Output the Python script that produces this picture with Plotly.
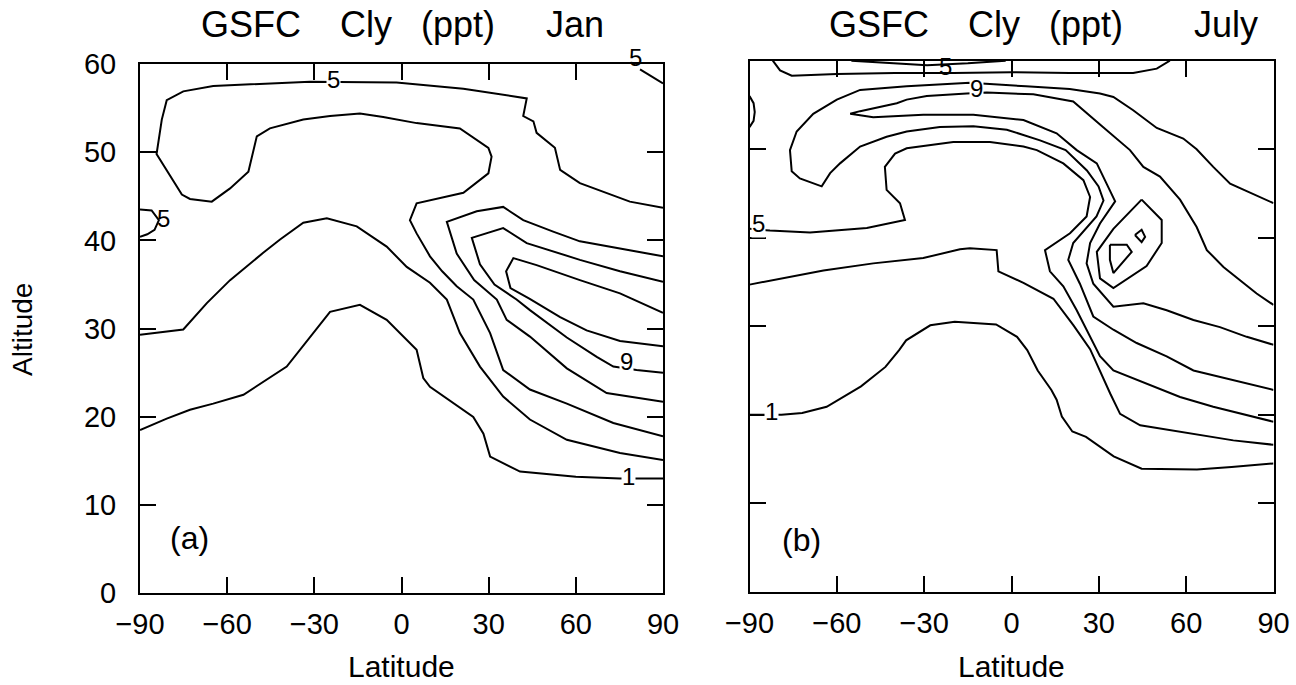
import plotly.graph_objects as go

# Panel (a) GSFC Cly January
JAN_1_LAT = [-90, -80.8, -72.8, -64.8, -54.4, -39.5, -24.6, -14.3, -5.1, 1.8, 5.2, 7.5, 9.8, 24.7, 28.2, 30.5, 40.8, 60, 75.2, 90]
JAN_1_ALT = [18.5, 19.8, 20.8, 21.5, 22.5, 25.7, 31.9, 32.7, 31.0, 28.7, 27.6, 24.4, 23.4, 20.0, 18.1, 15.5, 13.8, 13.2, 13.0, 13.0]

JAN_3_LAT = [-90, -75.1, -67.0, -59.0, -47.6, -41.8, -33.8, -25.7, -15.4, -5.1, 1.8, 9.8, 15.6, 20.1, 27.0, 35.0, 44.2, 56.9, 75.2, 90]
JAN_3_ALT = [29.3, 29.9, 32.9, 35.5, 38.6, 40.1, 42.0, 42.5, 41.6, 39.3, 37.0, 35.2, 33.3, 29.5, 25.7, 22.3, 19.7, 17.4, 15.9, 15.1]

JAN_5_LAT = [90, 78.6, 61.4, 54.6, 52.8, 46.5, 45.4, 41.9, 43.1, 21.3, -1.7, -18.3, -31.5, -64.8, -75.1, -80.8, -82.5, -84.3,
             -75.6, -72.8, -65.3, -59.0, -52.7, -49.8, -45.3, -33.8, -24.6, -14.3, -6.3, 5.2, 20.1, 29.9, 31.0, 29.9, 21.3,
             5.2, 2.9, 5.2, 9.8, 14.0, 19.0, 24.7, 30.5, 35.0, 44.2, 56.9, 72.9, 90]
JAN_5_ALT = [43.7, 44.4, 46.5, 48.0, 50.5, 52.2, 53.5, 54.1, 56.1, 57.2, 57.9, 58.0, 58.0, 57.5, 56.9, 55.9, 53.7, 49.8,
             45.2, 44.7, 44.4, 45.9, 47.8, 51.8, 52.7, 53.7, 54.1, 54.4, 54.0, 53.3, 52.7, 50.5, 49.5, 47.6, 45.4,
             44.2, 42.3, 40.8, 38.2, 36.5, 34.8, 33.3, 29.5, 25.3, 23.1, 21.5, 19.3, 17.8]

JAN_7_LAT = [90, 61.4, 52.2, 41.9, 35.0, 25.9, 15.6, 19.0, 25.0, 32.8, 36.2, 44.2, 56.9, 70.6, 90]
JAN_7_ALT = [38.2, 39.9, 41.0, 42.3, 43.8, 43.3, 42.1, 38.5, 35.5, 33.3, 31.0, 29.1, 25.5, 22.7, 21.7]

JAN_9_LAT = [90, 75.2, 61.4, 43.1, 35.0, 24.2, 27.0, 32.0, 39.6, 44.2, 56.9, 67.2, 72.9, 80.9, 90]
JAN_9_ALT = [35.3, 36.5, 37.8, 39.7, 41.4, 40.3, 37.3, 35.0, 33.3, 32.1, 29.0, 26.8, 25.7, 25.3, 25.0]

JAN_11_LAT = [90, 75.2, 61.4, 46.5, 38.5, 36.0, 37.5, 44.0, 54.6, 63.7, 75.2, 90]
JAN_11_ALT = [31.8, 34.0, 35.5, 37.2, 38.0, 36.5, 34.6, 33.4, 31.3, 29.8, 28.6, 28.0]

JAN_5B_LAT = [-90, -86.0, -83.5, -85.0, -87.5, -90]       # small loop at left edge
JAN_5B_ALT = [43.5, 43.4, 42.3, 41.2, 40.7, 40.4]
JAN_5C_LAT = [82.1, 86.0, 90]                            # corner segment top right
JAN_5C_ALT = [59.4, 58.6, 57.8]

# Panel (b) GSFC Cly July
JUL_1_LAT = [-90, -79.0, -71.9, -63.5, -51.7, -43.3, -38.6, -36.2, -27.9, -19.5, -5.3, 1.9, 5.4, 9.0, 13.7, 15.5, 17.3,
             20.9, 25.6, 35.1, 44.7, 63.7, 75.6, 90]
JUL_1_ALT = [20.0, 20.0, 20.2, 20.9, 23.2, 25.4, 27.3, 28.4, 30.1, 30.5, 30.2, 28.8, 27.3, 25.0, 22.8, 21.7, 19.8,
             18.1, 17.5, 15.3, 13.9, 13.8, 14.1, 14.5]

JUL_3_LAT = [-90, -78.4, -64.6, -47.5, -30.3, -17.7, -14.3, -5.1, -4.5, 4.1, 14.4, 21.3, 27.0, 33.9, 37.3, 44.2, 57.9, 76.2, 90]
JUL_3_ALT = [34.7, 35.4, 36.3, 37.1, 37.7, 38.7, 38.8, 38.6, 36.2, 34.9, 33.1, 30.1, 27.4, 22.4, 20.1, 18.8, 18.1, 17.1, 16.6]

JUL_5_LAT = [-90, -83.0, -69.2, -49.7, -36.6, -38.3, -42.9, -43.5, -40.0, -36.0, -20.0, -7.4, 4.1, 8.7, 17.8, 24.7, 27.0,
             25.8, 20.1, 11.5, 13.2, 17.8, 22.4, 27.0, 30.4, 35.0, 46.4, 57.9, 69.3, 90]
JUL_5_ALT = [41.0, 40.8, 40.6, 41.1, 42.0, 43.9, 45.4, 48.0, 49.5, 50.1, 50.8, 50.8, 50.3, 49.9, 48.4, 46.5, 44.6,
             42.4, 40.5, 38.6, 36.2, 34.5, 31.8, 28.8, 26.6, 25.0, 23.5, 22.0, 20.9, 19.2]

JUL_7_LAT = [90, 75.1, 69.3, 63.6, 59.0, 49.9, 41.8, 35.0, 30.4, 20.0, 5.0, -14.3, -36.0, -52.0, -60.0, -68.1, -73.8,
             -76.1, -75.5, -72.7, -65.2, -62.3, -58.9, -52.0, -42.9, -36.0, -24.6, -13.1, -1.6, 9.8, 18.6, 25.9, 29.9,
             31.6, 29.2, 21.2, 19.5, 23.5, 28.1, 35.0, 43.0, 53.3, 62.5, 71.6, 90]
JUL_7_ALT = [43.9, 46.1, 48.0, 50.0, 51.2, 52.4, 54.4, 55.9, 56.3, 56.8, 57.1, 57.5, 57.1, 56.7, 55.6, 54.0, 52.0,
             49.9, 47.5, 46.7, 45.8, 47.3, 48.4, 50.3, 51.4, 52.0, 52.5, 52.6, 52.2, 51.0, 49.9, 47.6, 45.8,
             44.2, 42.4, 39.4, 37.5, 34.8, 31.1, 29.6, 28.1, 26.6, 25.0, 24.3, 22.8]
JUL_7B_LAT = [-55.0, -45.0, -29.0, -15.0, -2.0]          # thin band just under the top
JUL_7B_ALT = [60.0, 59.8, 59.5, 59.7, 60.0]

JUL_9_LAT = [90, 84.2, 78.5, 72.8, 67.1, 63.6, 57.9, 51.0, 45.3, 40.7, 30.4, 21.2, 7.5, -8.5, -15.4, -29.1, -36.0, -39.4,
             -52.0, -55.4, -47.5, -30.3, -13.1, 4.1, 15.5, 22.4, 29.3, 33.2, 35.6, 30.4, 27.0, 25.8, 28.1, 35.0, 45.3,
             53.3, 62.5, 71.6, 80.8, 90]
JUL_9_ALT = [32.4, 33.7, 35.2, 36.7, 38.6, 41.2, 44.3, 46.9, 48.0, 49.9, 52.8, 55.4, 56.2, 56.4, 56.3, 56.0, 55.6, 55.2,
             54.3, 54.0, 53.6, 53.9, 53.9, 53.3, 51.8, 49.9, 48.4, 45.8, 44.1, 41.6, 39.4, 37.1, 34.8, 32.2, 32.6,
             31.8, 30.7, 29.9, 28.8, 27.9]

JUL_11_LAT = [44.7, 51.6, 51.6, 46.4, 35.0, 30.4, 29.3, 35.0, 44.7]
JUL_11_ALT = [44.3, 42.0, 39.4, 36.8, 34.3, 35.4, 38.4, 41.0, 44.3]

JUL_13A_LAT = [33.8, 39.6, 41.3, 35.0, 33.8, 33.8]
JUL_13A_ALT = [39.2, 39.2, 38.4, 36.0, 37.5, 39.2]
JUL_13B_LAT = [42.4, 44.7, 45.9, 44.7, 42.4]
JUL_13B_ALT = [40.3, 40.9, 40.1, 39.5, 40.3]

JUL_5B_LAT = [-82.0, -79.5, -75.5, -60.0, -40.0, -20.0, 0.0, 20.0, 41.8, 49.9, 54.4]   # top sliver
JUL_5B_ALT = [60.0, 58.9, 58.3, 58.5, 58.6, 58.6, 58.7, 58.6, 58.6, 59.1, 60.0]
JUL_EDGE_LAT = [-90, -88.6, -88.2, -88.6, -90]
JUL_EDGE_ALT = [56.0, 55.2, 54.2, 53.2, 52.5]

X_TICKS = [-90, -60, -30, 0, 30, 60, 90]
Y_TICKS = [0, 10, 20, 30, 40, 50, 60]

JAN_LINES = [(JAN_1_LAT, JAN_1_ALT), (JAN_3_LAT, JAN_3_ALT), (JAN_5_LAT, JAN_5_ALT), (JAN_7_LAT, JAN_7_ALT),
             (JAN_9_LAT, JAN_9_ALT), (JAN_11_LAT, JAN_11_ALT), (JAN_5B_LAT, JAN_5B_ALT), (JAN_5C_LAT, JAN_5C_ALT)]
JUL_LINES = [(JUL_1_LAT, JUL_1_ALT), (JUL_3_LAT, JUL_3_ALT), (JUL_5_LAT, JUL_5_ALT), (JUL_7_LAT, JUL_7_ALT),
             (JUL_7B_LAT, JUL_7B_ALT), (JUL_9_LAT, JUL_9_ALT), (JUL_11_LAT, JUL_11_ALT), (JUL_13A_LAT, JUL_13A_ALT),
             (JUL_13B_LAT, JUL_13B_ALT), (JUL_5B_LAT, JUL_5B_ALT), (JUL_EDGE_LAT, JUL_EDGE_ALT)]

# contour labels: (text, lat, alt, white background?)
JAN_LABELS = [("5", -23.5, 58.2, True), ("5", -82.0, 42.5, False),
              ("9", 77.5, 26.3, True), ("1", 78.0, 13.2, True)]
JAN_CORNER_LABEL = ("5", 80.4, 60.7)
JUL_LABELS = [("5", -22.8, 59.3, False), ("9", -12.0, 56.9, True), ("5", -87.0, 41.6, True),
              ("1", -82.5, 20.4, True)]

# title words and their centres (pixels across the 1296 px page)
TITLE_A = [("GSFC", 251), ("Cly", 366), ("(ppt)", 458), ("Jan", 575)]
TITLE_B = [("GSFC", 879), ("Cly", 994), ("(ppt)", 1086), ("July", 1226)]

FONT = "Liberation Sans, Arial, sans-serif"
W, H = 1296, 685

fig = go.Figure()
for lat, alt in JAN_LINES:
    fig.add_trace(go.Scatter(x=lat, y=alt, mode="lines", line=dict(color="black", width=2),
                             xaxis="x", yaxis="y", showlegend=False, hoverinfo="skip"))
for lat, alt in JUL_LINES:
    fig.add_trace(go.Scatter(x=lat, y=alt, mode="lines", line=dict(color="black", width=2),
                             xaxis="x2", yaxis="y2", showlegend=False, hoverinfo="skip"))

ann = []
for txt, la, al, bg in JAN_LABELS:
    ann.append(dict(text=txt, x=la, y=al, xref="x", yref="y", showarrow=False,
                    xanchor="center", yanchor="middle",
                    font=dict(family=FONT, size=24, color="black"),
                    bgcolor="white" if bg else None, borderpad=0))
ann.append(dict(text=JAN_CORNER_LABEL[0], x=JAN_CORNER_LABEL[1], y=JAN_CORNER_LABEL[2] / 60.0,
                xref="x", yref="y domain", showarrow=False, xanchor="center", yanchor="middle",
                font=dict(family=FONT, size=24, color="black")))
for txt, la, al, bg in JUL_LABELS:
    ann.append(dict(text=txt, x=la, y=al, xref="x2", yref="y2", showarrow=False,
                    xanchor="center", yanchor="middle",
                    font=dict(family=FONT, size=24, color="black"),
                    bgcolor="white" if bg else None, borderpad=0))

for word, cx in TITLE_A + TITLE_B:
    ann.append(dict(text=word, x=cx / W, y=1 - 24 / H, xref="paper", yref="paper", showarrow=False,
                    xanchor="center", yanchor="middle", font=dict(family=FONT, size=36, color="black")))

ann += [
    dict(text="Latitude", x=401.5 / W, y=1 - 666 / H, xref="paper", yref="paper", xanchor="center", yanchor="middle",
         showarrow=False, font=dict(family=FONT, size=30, color="black")),
    dict(text="Latitude", x=1011.5 / W, y=1 - 666 / H, xref="paper", yref="paper", xanchor="center", yanchor="middle",
         showarrow=False, font=dict(family=FONT, size=30, color="black")),
    dict(text="Altitude", x=22 / W, y=1 - 330 / H, xref="paper", yref="paper", textangle=-90,
         xanchor="center", yanchor="middle",
         showarrow=False, font=dict(family=FONT, size=28, color="black")),
    dict(text="(a)", x=-72.8, y=6.3, xref="x", yref="y", showarrow=False, xanchor="center", yanchor="middle",
         font=dict(family=FONT, size=32, color="black")),
    dict(text="(b)", x=-72.0, y=5.8, xref="x2", yref="y2", showarrow=False, xanchor="center", yanchor="middle",
         font=dict(family=FONT, size=32, color="black")),
]

axis_common = dict(range=[-90, 90], tickvals=X_TICKS, ticktext=[str(v).replace("-", "\u2212") for v in X_TICKS],
                   ticks="inside", ticklen=16, tickwidth=2, tickcolor="black",
                   showline=True, linewidth=2, linecolor="black", mirror="ticks",
                   showgrid=False, zeroline=False, fixedrange=True, automargin=False,
                   tickfont=dict(family=FONT, size=29, color="black"), ticklabelstandoff=4)
yaxis_common = dict(range=[0, 60], tickvals=Y_TICKS,
                    ticks="inside", ticklen=16, tickwidth=2, tickcolor="black",
                    showline=True, linewidth=2, linecolor="black", mirror="ticks",
                    showgrid=False, zeroline=False, fixedrange=True, automargin=False,
                    tickfont=dict(family=FONT, size=29, color="black"))

fig.update_layout(
    width=W, height=H,
    margin=dict(l=0, r=0, t=0, b=0),
    paper_bgcolor="white", plot_bgcolor="white",
    xaxis=dict(domain=[140 / W, 663 / W], anchor="y", **axis_common),
    yaxis=dict(domain=[1 - 593.3 / H, 1 - 64 / H], anchor="x", ticklabelstandoff=16, **yaxis_common),
    xaxis2=dict(domain=[749.5 / W, 1273.5 / W], anchor="y2", **axis_common),
    yaxis2=dict(domain=[1 - 591.7 / H, 1 - 60.7 / H], anchor="x2", showticklabels=False, **yaxis_common),
    annotations=ann,
    showlegend=False,
)

fig.write_html("out.html")
